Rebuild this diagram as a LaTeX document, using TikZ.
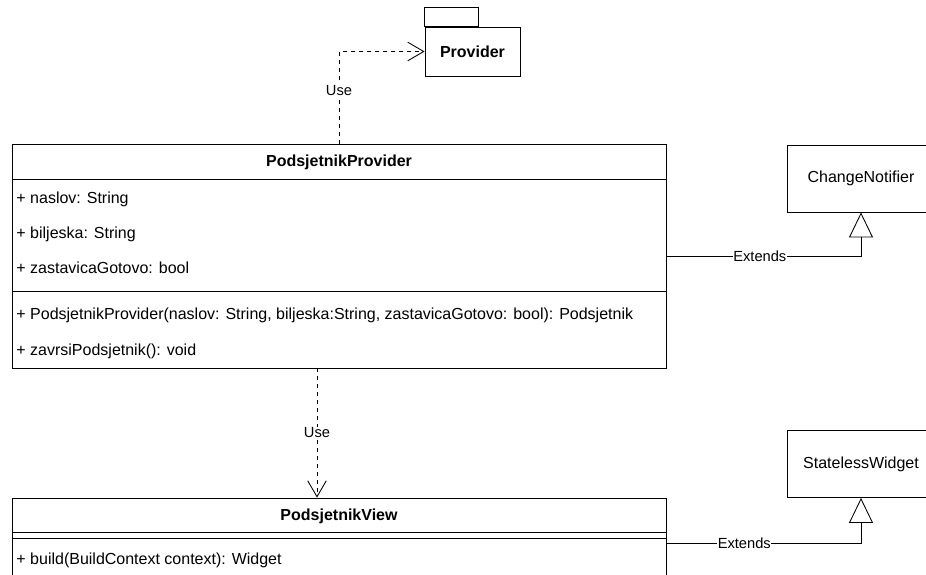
\documentclass[tikz,border=0pt]{standalone}
\usepackage{fontspec}
\setmainfont{Liberation Sans}
\usepackage{tikz}
\usetikzlibrary{arrows.meta,positioning}
\tikzset{cls/.style={draw,minimum width=490.5pt,inner sep=0pt},
  cname/.style={font=\fontsize{12}{14}\selectfont\bfseries},
  member/.style={anchor=west,inner sep=0pt},
  base/.style={draw,minimum width=111pt,minimum height=50.25pt},
  pkg/.style={draw,font=\fontsize{12}{14}\selectfont\bfseries,minimum width=71.25pt,minimum height=36.75pt},
  lbl/.style={fill=white,inner sep=0.5pt,font=\fontsize{11}{13}\selectfont},
  use/.style={dash pattern=on 3pt off 3pt,-{Straight Barb[length=12pt,width=14pt]}},
  ext/.style={-{Triangle[open,length=18.75pt,width=18pt]}}}

\begin{document}
\begin{tikzpicture}[x=0.75pt,y=-0.75pt,line width=0.65pt,font=\fontsize{12}{14}\selectfont]
    \useasboundingbox (0,0) rectangle (926,575);
    \clip (0,0) rectangle (926,575);

    \node[pkg] (prov) at (472.5,51.5) {Provider};
    \draw [] (prov.north west) rectangle ++(54,-19);

    \node[cls,minimum height=168pt] (pp) at (339,256) {};
    \node[cname] (ppname) at (339,162) {PodsjetnikProvider};
    \draw [] ([yshift=-27pt]pp.north west) -- ([yshift=-27pt]pp.north east);
    \draw [] ([yshift=-111pt]pp.north west) -- ([yshift=-111pt]pp.north east);
    \node[member] (f1) at (16,199) {+ naslov: String};
    \node[member] (f2) at (16,234) {+ biljeska: String};
    \node[member] (f3) at (16,268) {+ zastavicaGotovo: bool};
    \node[member] (m1) at (16,315) {+ PodsjetnikProvider(naslov: String, biljeska:String, zastavicaGotovo: bool): Podsjetnik};
    \node[member] (m2) at (16,351) {+ zavrsiPodsjetnik(): void};
    \node[base] (cn) at (861,178.5) {ChangeNotifier};

    \node[cls,minimum height=67.5pt] (pv) at (339,543) {};
    \node[cname] (pvname) at (339,516) {PodsjetnikView};
    \draw [] ([yshift=-26.25pt]pv.north west) -- ([yshift=-26.25pt]pv.north east);
    \draw [] ([yshift=-30.75pt]pv.north west) -- ([yshift=-30.75pt]pv.north east);
    \node[member] (m3) at (16,560) {+ build(BuildContext context): Widget};
    \node[base] (sw) at (861,464) {StatelessWidget};

    \draw [use] (pp.north) |- node[lbl,pos=0.29]{Use} (prov.west);
    \draw [use] ([xshift=-16.5pt]pp.south) -- node[lbl]{Use} ([xshift=-16.5pt]pv.north);
    \draw [ext] (pp.east) -| node[lbl,pos=0.24]{Extends} (cn.south);
    \draw [ext] (pv.east) -| node[lbl,pos=0.2]{Extends} (sw.south);
\end{tikzpicture}
\end{document}
